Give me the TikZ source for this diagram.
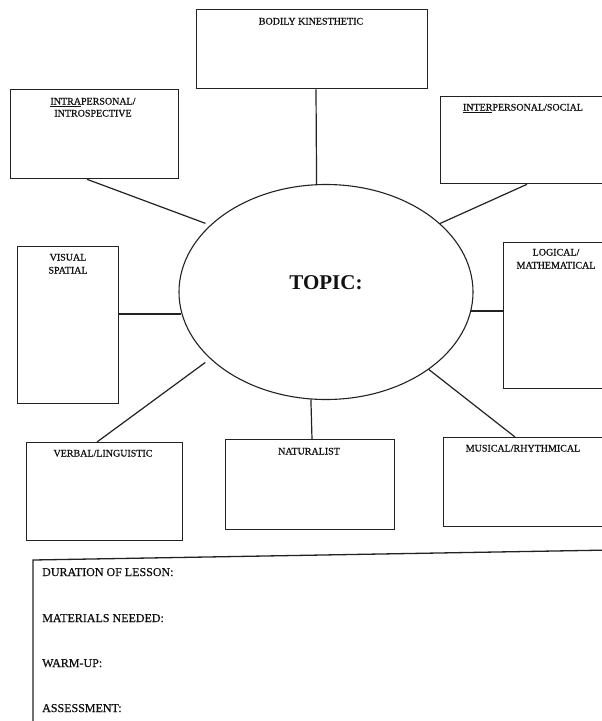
\documentclass[tikz,border=0pt]{standalone}
\usepackage{fontspec}
\setmainfont{Liberation Serif}
\newfontfamily\scanfont[FakeBold=0.6]{Liberation Serif}
\usetikzlibrary{shapes.geometric,calc}
\definecolor{linec}{HTML}{222222}
\definecolor{textc}{HTML}{111111}
\begin{document}
\begin{tikzpicture}[x=1pt,y=-1pt,
  box/.style={draw=linec, line width=1.3pt, rectangle, inner sep=0pt, anchor=north west},
  conn/.style={draw=linec, line width=1.2pt},
  lbl/.style={font=\scanfont\fontsize{10}{12}\selectfont, inner sep=0pt, align=center, anchor=north, text=textc},
  lbltall/.style={lbl, font=\scanfont\fontsize{10}{13}\selectfont},
  formtext/.style={font=\scanfont\fontsize{12}{14}\selectfont, inner sep=0pt, anchor=base west, text=textc}]
\useasboundingbox (0,0) rectangle (602,721);
\fill[white] (0,0) rectangle (602,721);
\begin{scope}
\clip (0,0) rectangle (602,721);
% boxes
\node[box, minimum width=231pt, minimum height=79pt] (bodily) at (196,9) {};
\node[box, minimum width=168pt, minimum height=89pt] (intra) at (10,89) {};
\node[box, minimum width=175pt, minimum height=87pt] (inter) at (440,96) {};
\node[box, minimum width=101pt, minimum height=157pt] (visual) at (17,246) {};
\node[box, minimum width=115pt, minimum height=146pt] (logical) at (503,242) {};
\node[box, minimum width=156pt, minimum height=98pt] (verbal) at (26,442) {};
\node[box, minimum width=169pt, minimum height=90pt] (natur) at (225,439) {};
\node[box, minimum width=175pt, minimum height=89pt] (musical) at (443,437) {};
% central ellipse
\node[ellipse, draw=linec, line width=1.1pt, minimum width=294pt, minimum height=215pt, inner sep=0pt] (topic) at (326,292) {};
\node[font=\fontsize{21}{24}\selectfont\bfseries, inner sep=0pt, text=textc] (topictext) at (326,283) {TOPIC:};
% labels
\node[lbl] (bodilyl) at (311,17.7) {BODILY KINESTHETIC};
\node[lbl] (intral) at (93,97.7) {\underline{INTRA}PERSONAL/\\INTROSPECTIVE};
\node[lbl] (interl) at (523,103.7) {\underline{INTER}PERSONAL/SOCIAL};
\node[lbltall] (visuall) at (68,253.7) {VISUAL\\SPATIAL};
\node[lbltall] (logicall) at (556,248.7) {LOGICAL/\\MATHEMATICAL};
\node[lbl] (verball) at (103,449.7) {VERBAL/LINGUISTIC};
\node[lbl] (naturl) at (309,447.7) {NATURALIST};
\node[lbl] (musicall) at (523,444.7) {MUSICAL/RHYTHMICAL};
% connectors
\coordinate (vsp) at ($(visual.north east)+(0,68)$);
\coordinate (lgm) at ($(logical.north west)+(0,69)$);
\draw[conn] ($(bodily.south west)+(120,0)$) -- (topic.95.3);
\draw[conn, shorten >=5pt] ($(intra.south west)+(77,0)$) -- (topic.150.96);
\draw[conn] ($(inter.south west)+(87,0)$) -- (topic.31.2);
\draw[conn] (vsp) -- (vsp -| topic.188.6);
\draw[conn] (lgm) -- (lgm -| topic.352.5);
\draw[conn, shorten >=6pt] ($(verbal.north west)+(71,0)$) -- (topic.210.1);
\draw[conn] ($(natur.north west)+(87,0)$) -- (topic.262.5);
\draw[conn] ($(musical.north west)+(72,0)$) -- (topic.323.1);
% lesson form box
\coordinate (formbl) at (33,730);
\coordinate (formtl) at (33,560);
\coordinate (formtr) at (612,550);
\draw[draw=linec, line width=1.3pt] (formbl) -- (formtl) -- (formtr);
\node[formtext] (duration) at (42,576) {DURATION OF LESSON:};
\node[formtext] (materials) at (42,622) {MATERIALS NEEDED:};
\node[formtext] (warmup) at (42,667) {WARM-UP:};
\node[formtext] (assess) at (42,712) {ASSESSMENT:};
\end{scope}
\end{tikzpicture}
\end{document}
